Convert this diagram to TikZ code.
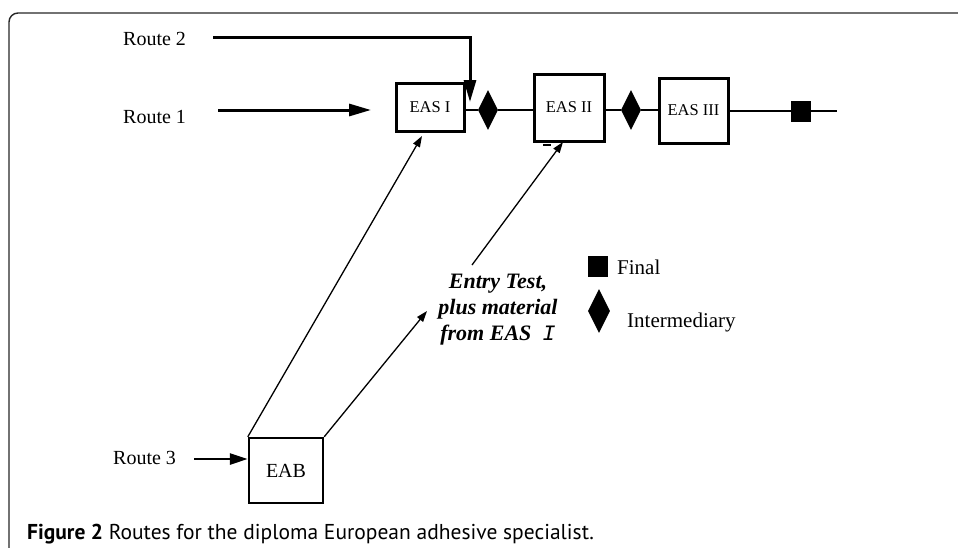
\documentclass[tikz,border=0pt]{standalone}
\usepackage{fontspec}
\setmainfont{Liberation Serif}
\newfontfamily\capfont{PT Sans}
\newfontfamily\monofnt{Liberation Mono}
\usetikzlibrary{arrows.meta,shapes.geometric}
\begin{document}
\begin{tikzpicture}[x=1pt,y=-1pt,
  box/.style={draw,line width=3pt,inner sep=0pt,font=\fontsize{16.5}{18}\selectfont},
  gem/.style={diamond,fill=black,draw=none,inner sep=0pt,minimum width=20pt,minimum height=40pt},
  blk/.style={rectangle,fill=black,draw=none,inner sep=0pt,minimum width=20pt,minimum height=21pt},
  route/.style={font=\fontsize{20}{24}\selectfont,inner sep=0pt,anchor=base west},
  legtext/.style={font=\fontsize{21}{24}\selectfont,inner sep=0pt,anchor=base west},
  mainline/.style={line width=2.8pt},
  bigarrow/.style={line width=3pt,-{Triangle[length=22pt,width=12pt]}},
  thinarrow/.style={line width=1.3pt,-{Triangle[length=11pt,width=7.5pt]}}
]
\useasboundingbox (0,0) rectangle (958,547);
\draw[line width=1.4pt,black!85,rounded corners=9pt] (9,560) -- (9,13) -- (970,13);

% boxes
\node[box,minimum width=68pt,minimum height=48pt] (eas1) at (430,107) {EAS I};
\node[box,minimum width=70pt,minimum height=67pt] (eas2) at (569,107.5) {EAS II};
\node[box,minimum width=69pt,minimum height=65pt] (eas3) at (693.5,110.5) {EAS III};
\node[box,line width=2.4pt,minimum width=74pt,minimum height=65pt,font=\fontsize{20}{24}\selectfont] (eab) at (286,470.5) {EAB};

% exams on the line
\node[gem] (d1) at (488,110) {};
\node[gem] (d2) at (631,110) {};
\node[blk] (fin) at (801,111) {};
\coordinate (lineend) at (837,111);

% route labels
\node[route] (r2) at (123,45) {Route 2};
\node[route] (r1) at (123,123) {Route 1};
\node[route] (r3) at (113,464) {Route 3};

\coordinate (r2s) at (213,37);
\coordinate (r2e) at (470,102);
\coordinate (r1s) at (218,110);
\coordinate (r1e) at (371,110);
\coordinate (r3s) at (194,459);

% main line
\draw[mainline] (eas1.east |- d1) -- (d1.west);
\draw[mainline] (d1.east) -- (eas2.west |- d1);
\draw[mainline] (eas2.east |- d2) -- (d2.west);
\draw[mainline] (d2.east) -- (eas3.west |- d2);
\draw[mainline] (eas3.east |- fin) -- (fin.west);
\draw[mainline] (fin.east) -- (lineend);

% routes
\draw[bigarrow] (r2s) -| (r2e);
\draw[bigarrow] (r1s) -- (r1e);
\draw[bigarrow,line width=2.6pt,-{Triangle[length=18pt,width=11pt]}] (r3s) -- (eab.west |- r3s);

% entry test text
\node[font=\fontsize{22}{26}\selectfont\bfseries\itshape,align=center,inner sep=0pt,anchor=base] (entry) at (498,340)
  {Entry Test,\\plus material\\from EAS\ \ {\monofnt\mdseries\itshape I}};

\coordinate (a1) at (422,136);
\coordinate (a2) at (427,311);
\coordinate (a3) at (472,265);
\coordinate (a4) at (563,142);
\draw[thinarrow] (eab.north west) -- (a1);
\draw[thinarrow] (eab.north east) -- (a2);
\draw[thinarrow] (a3) -- (a4);
\coordinate (m1) at (543,145);
\coordinate (m2) at (551,145);
\draw[line width=1.2pt] (m1) -- (m2);

% legend
\node[blk] (lsq) at (598,266.5) {};
\node[gem,minimum width=22pt,minimum height=44pt] (ldm) at (599,311) {};
\node[legtext] (lfin) at (617,274) {Final};
\node[legtext] (lint) at (627,327) {Intermediary};

% caption
\node[font=\capfont\fontsize{21.5}{24}\selectfont,inner sep=0pt,anchor=base west] (cap) at (27,539)
  {{\bfseries Figure 2} Routes for the diploma European adhesive specialist.};
\end{tikzpicture}
\end{document}
